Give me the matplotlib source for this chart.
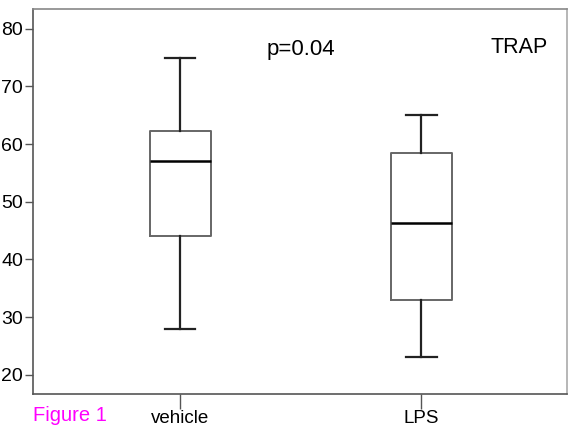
import matplotlib.pyplot as plt

plt.rcParams['font.family'] = ['Liberation Sans', 'DejaVu Sans']

# Summary statistics
groups = ['vehicle', 'LPS']
whisker_low = [28, 23]
q1 = [44.1, 32.9]
median = [57.1, 46.4]
q3 = [62.2, 58.5]
whisker_high = [75, 65]

stats = []
for i in range(len(groups)):
    stats.append({'label': groups[i], 'whislo': whisker_low[i], 'q1': q1[i],
                  'med': median[i], 'q3': q3[i], 'whishi': whisker_high[i],
                  'fliers': []})

fig = plt.figure(figsize=(5.68, 4.29), dpi=100)
ax = fig.add_axes([0.058, 0.082, 0.941, 0.898])

ax.bxp(stats, positions=[1, 2], widths=0.253, capwidths=0.125, showfliers=False,
       boxprops=dict(color='#666666', linewidth=1.4),
       medianprops=dict(color='black', linewidth=1.8),
       whiskerprops=dict(color='#222222', linewidth=1.6),
       capprops=dict(color='#222222', linewidth=1.6))

ax.set_xlim(0.39, 2.605)
ax.set_ylim(16.7, 83.5)
ax.set_yticks([20, 30, 40, 50, 60, 70, 80])
ax.set_xticks([1, 2])
ax.set_xticklabels(groups)

for s in ax.spines.values():
    s.set_color('#555555')
    s.set_linewidth(1.2)
ax.spines['right'].set_color('#aaaaaa')
ax.spines['top'].set_color('#888888')

ax.tick_params(axis='y', direction='out', length=6, width=1, color='#555555',
               labelsize=14, pad=1)
ax.tick_params(axis='x', direction='out', length=11, width=1, color='#555555',
               labelsize=13.5, pad=1)

ax.text(1.5, 76.4, 'p=0.04', ha='center', va='center', fontsize=16)
ax.text(2.405, 76.7, 'TRAP', ha='center', va='center', fontsize=15.5)

fig.text(0.058, 0.032, 'Figure 1', color='#ff00ff', fontsize=14.5,
         ha='left', va='center')

plt.savefig('out.png', dpi=100)
